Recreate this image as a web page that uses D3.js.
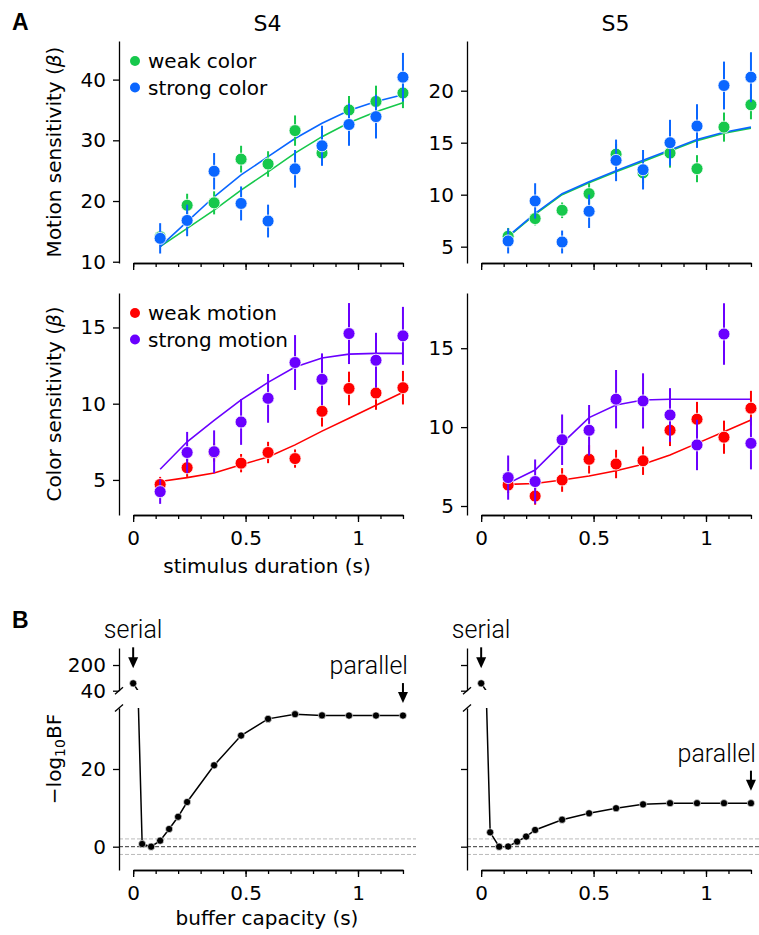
<!DOCTYPE html>
<html><head><meta charset="utf-8">
<script src="https://cdn.jsdelivr.net/npm/d3@7"></script>
<style>body{margin:0;background:#fff} svg{display:block}</style>
</head><body><svg id="c" width="759" height="935"></svg>
<script>
// ---------------- DATA ----------------
const durations = [0.12,0.24,0.36,0.48,0.6,0.72,0.84,0.96,1.08,1.2];
const xTickValues = [0,0.1,0.2,0.3,0.4,0.5,0.6,0.7,0.8,0.9,1.0,1.1,1.2];
const xMajorTicks = [0,0.5,1];

// S4 motion sensitivity
const s4WeakColor      = [14.1,19.3,19.7,26.9,26.1,31.6,27.9,35.0,36.4,37.8];
const s4WeakColorErr   = [1.0,1.9,1.9,2.2,2.1,2.5,1.7,2.3,2.6,2.5];
const s4StrongColor    = [13.85,16.8,24.9,19.6,16.7,25.3,29.1,32.6,33.9,40.4];
const s4StrongColorErr = [2.5,2.6,3.0,2.8,2.7,3.1,3.3,3.5,3.6,4.0];
const s4WeakColorFit   = [12.5,15.5,18.5,21.8,24.8,27.9,30.6,32.9,34.7,36.2];
const s4StrongColorFit = [12.5,16.6,20.7,24.3,27.3,30.3,32.8,34.9,36.4,37.5];

// S5 motion sensitivity
const s5WeakColor      = [6.0,7.7,8.5,10.1,13.9,12.1,14.0,12.5,16.5,18.65];
const s5WeakColorErr   = [0.8,0.65,0.75,1.0,1.0,1.0,1.4,1.3,1.4,1.4];
const s5StrongColor    = [5.55,9.4,5.45,8.4,13.3,12.4,15.0,16.6,20.5,21.3];
const s5StrongColorErr = [1.2,1.7,1.1,1.6,2.0,1.9,2.2,2.1,2.3,2.4];
const s5WeakColorFit   = [5.95,8.1,10.0,11.15,12.2,13.2,14.2,15.2,15.9,16.4];
const s5StrongColorFit = [6.0,8.2,10.1,11.25,12.3,13.3,14.3,15.3,16.0,16.5];

// S4 color sensitivity
const s4WeakMotion      = [4.7,5.8,6.8,6.1,6.8,6.4,9.5,11.0,10.7,11.05];
const s4WeakMotionErr   = [0.5,0.6,0.6,0.6,0.7,0.6,1.0,1.1,1.1,1.1];
const s4StrongMotion    = [4.23,6.8,6.85,8.8,10.35,12.7,11.6,14.6,12.85,14.45];
const s4StrongMotionErr = [0.8,1.35,1.4,1.5,1.6,1.8,1.7,2.0,1.8,1.9];
const s4WeakMotionFit   = [4.9,5.15,5.45,6.0,6.5,7.3,8.2,9.05,9.9,10.75];
const s4StrongMotionFit = [5.7,7.5,8.9,10.25,11.4,12.4,13.0,13.25,13.3,13.3];

// S5 color sensitivity
const s5WeakMotion      = [6.33,5.63,6.65,7.96,7.66,7.87,9.8,10.5,9.36,11.2];
const s5WeakMotionErr   = [0.5,0.55,0.75,0.9,0.9,0.9,1.0,1.1,1.05,1.1];
const s5StrongMotion    = [6.8,6.55,9.2,9.8,11.77,11.66,10.77,8.87,15.9,8.97];
const s5StrongMotionErr = [1.4,1.4,1.6,1.6,1.85,1.75,1.7,1.6,1.95,1.65];
const s5WeakMotionFit   = [6.37,6.43,6.65,6.9,7.24,7.64,8.23,8.97,9.71,10.45];
const s5StrongMotionFit = [6.44,7.28,8.97,10.6,11.4,11.72,11.77,11.77,11.77,11.77];

// Panel B: model comparison
const bufferCapacity = [0,0.04,0.08,0.12,0.16,0.2,0.24,0.36,0.48,0.6,0.72,0.84,0.96,1.08,1.2];
const s4LogBF = [86,0.7,0,1.55,4.55,7.7,11.5,20.95,28.6,32.9,34.1,33.8,33.75,33.75,33.75];
const s5LogBF = [86,3.7,0,0.05,1.3,2.6,4.3,6.95,8.6,9.9,10.9,11.2,11.2,11.2,11.2];

const colWeakColor = "#16c84c", colStrongColor = "#0a66ff";
const colWeakMotion = "#ff0000", colStrongMotion = "#6a00ff";

// ---------------- DRAWING ----------------
const svg = d3.select("#c");
const FONT = "DejaVu Sans, sans-serif";
const AXW = 297;
const XDOM = [-0.063, 1.258];
let clipId = 0;

function styleAxis(sel, fs) {
  sel.attr("font-family", null).attr("font-size", null);
  sel.select(".domain").attr("stroke", "#000").attr("stroke-width", 1.3);
  sel.selectAll(".tick line").attr("stroke", "#000").attr("stroke-width", 1.3);
  sel.selectAll(".tick text").attr("font-family", FONT).attr("font-size", fs || 20).attr("fill", "#000");
}

function drawXAxis(x, yPos, labels) {
  const xs = d3.scaleLinear().domain([0, 1.2]).range([x(0), x(1.2)]);
  const minor = d3.axisBottom(xs).tickValues(xTickValues).tickSize(4).tickSizeOuter(0).tickFormat("");
  svg.append("g").attr("transform", `translate(0,${yPos})`).call(minor).call(styleAxis);
  const major = d3.axisBottom(xs).tickValues(xMajorTicks).tickSize(7).tickSizeOuter(0).tickPadding(9)
    .tickFormat(labels ? (d => String(d)) : "");
  svg.append("g").attr("transform", `translate(0,${yPos})`).call(major).call(styleAxis);
}

function drawYAxis(y, left, ticks, labels) {
  const ax = d3.axisLeft(y).tickValues(ticks).tickSize(6).tickSizeOuter(0).tickPadding(7);
  if (!labels) ax.tickFormat("");
  svg.append("g").attr("transform", `translate(${left},0)`).call(ax).call(styleAxis);
}

function panelA(o) {
  const x = d3.scaleLinear().domain(XDOM).range([o.left, o.left + AXW]);
  const y = d3.scaleLinear().domain(o.ydom).range([o.bottom, o.top]);
  drawYAxis(y, o.left, o.yticks, true);
  drawXAxis(x, o.bottom, o.xlabels);
  const line = d3.line().x((d, i) => x(durations[i])).y(d => y(d));
  o.series.forEach(s => {
    svg.append("path").datum(s.fit).attr("d", line)
      .attr("fill", "none").attr("stroke", s.color).attr("stroke-width", 1.6);
  });
  o.series.forEach(s => {
    const g = svg.append("g");
    g.selectAll("line.err").data(s.vals).join("line")
      .attr("x1", (d, i) => x(durations[i])).attr("x2", (d, i) => x(durations[i]))
      .attr("y1", (d, i) => y(d - s.err[i])).attr("y2", (d, i) => y(d + s.err[i]))
      .attr("stroke", s.color).attr("stroke-width", 2);
    g.selectAll("circle").data(s.vals).join("circle")
      .attr("cx", (d, i) => x(durations[i])).attr("cy", d => y(d)).attr("r", 6)
      .attr("fill", s.color).attr("stroke", "#fff").attr("stroke-width", 0.8);
  });
  if (o.legend) {
    o.series.forEach((s, i) => {
      const ly = o.top + 20 + i * 26.5;
      svg.append("circle").attr("cx", o.left + 16).attr("cy", ly).attr("r", 5).attr("fill", s.color);
      svg.append("text").attr("x", o.left + 29).attr("y", ly + 7).text(s.name)
        .attr("font-family", FONT).attr("font-size", 20).attr("fill", "#000");
    });
  }
  return x;
}

function arrow(xp, yTop, yTip) {
  svg.append("line").attr("x1", xp).attr("x2", xp).attr("y1", yTop).attr("y2", yTip - 6)
    .attr("stroke", "#000").attr("stroke-width", 2);
  svg.append("path").attr("d", `M${xp - 5},${yTip - 11}L${xp + 5},${yTip - 11}L${xp},${yTip}Z`).attr("fill", "#000");
}

function panelB(o) {
  const x = d3.scaleLinear().domain(XDOM).range([o.left, o.left + AXW]);
  const yLo = d3.scaleLinear().domain([-6, 35.7]).range([870, 708]);
  const yHi = d3.scaleLinear().domain([40, 306]).range([690.7, 648]);
  [[2, "#bbb"], [-2, "#bbb"], [0, "#333"]].forEach(([v, c]) => {
    svg.append("line").attr("x1", o.left).attr("x2", o.left + AXW).attr("y1", yLo(v)).attr("y2", yLo(v))
      .attr("stroke", c).attr("stroke-width", 1).attr("stroke-dasharray", "4,2");
  });
  drawYAxis(yLo, o.left, [0, 20], o.ylabels);
  drawYAxis(yHi, o.left, [40, 200], o.ylabels);
  drawXAxis(x, 870, true);
  [690.7, 708].forEach(yy => {
    svg.append("line").attr("x1", o.left - 4).attr("x2", o.left + 4).attr("y1", yy + 3.5).attr("y2", yy - 3.5)
      .attr("stroke", "#000").attr("stroke-width", 1.3);
  });
  [[yLo, 708, 880, [-6, 35.7]], [yHi, 640, 690, [40, 306]]].forEach(([y, y0, y1, dom]) => {
    const id = "clip" + (clipId++);
    svg.append("clipPath").attr("id", id).append("rect")
      .attr("x", o.left).attr("y", y0).attr("width", AXW + 10).attr("height", y1 - y0);
    const g = svg.append("g").attr("clip-path", `url(#${id})`);
    const line = d3.line().x((d, i) => x(bufferCapacity[i])).y(d => y(d));
    g.append("path").datum(o.vals).attr("d", line).attr("fill", "none").attr("stroke", "#000").attr("stroke-width", 1.5);
    const pts = o.vals.map((v, i) => ({v, c: bufferCapacity[i]})).filter(p => p.v >= dom[0] && p.v <= dom[1]);
    g.selectAll("circle").data(pts).join("circle")
      .attr("cx", p => x(p.c)).attr("cy", p => y(p.v)).attr("r", 3.6)
      .attr("fill", "#000").attr("stroke", "#fff").attr("stroke-width", 0.6);
  });
  const serialTip = yHi(o.vals[0]) - 15;
  arrow(x(0), serialTip - 21, serialTip);
  svg.append("text").attr("x", x(0)).attr("y", serialTip - 30).attr("text-anchor", "middle")
    .attr("font-family", "Roboto, Liberation Sans, sans-serif").attr("font-weight", 300)
    .attr("font-size", 25).attr("fill", "#000").text("serial");
  const last = o.vals[o.vals.length - 1];
  const parTip = yLo(last) - 12.5;
  arrow(x(1.2), parTip - 20, parTip);
  svg.append("text").attr("x", x(1.2) + 5).attr("y", parTip - 29).attr("text-anchor", "end")
    .attr("font-family", "Roboto, Liberation Sans, sans-serif").attr("font-weight", 300)
    .attr("font-size", 25).attr("fill", "#000").text("parallel");
}

const L = 119, R = 467;

panelA({left: L, top: 41, bottom: 263, ydom: [9.79, 46.36], yticks: [10,20,30,40], xlabels: false, legend: true,
  series: [
    {name: "weak color", color: colWeakColor, vals: s4WeakColor, err: s4WeakColorErr, fit: s4WeakColorFit},
    {name: "strong color", color: colStrongColor, vals: s4StrongColor, err: s4StrongColorErr, fit: s4StrongColorFit}]});
panelA({left: R, top: 41, bottom: 263, ydom: [3.43, 24.78], yticks: [5,10,15,20], xlabels: false, legend: false,
  series: [
    {name: "weak color", color: colWeakColor, vals: s5WeakColor, err: s5WeakColorErr, fit: s5WeakColorFit},
    {name: "strong color", color: colStrongColor, vals: s5StrongColor, err: s5StrongColorErr, fit: s5StrongColorFit}]});
panelA({left: L, top: 293, bottom: 515, ydom: [2.70, 17.26], yticks: [5,10,15], xlabels: true, legend: true,
  series: [
    {name: "weak motion", color: colWeakMotion, vals: s4WeakMotion, err: s4WeakMotionErr, fit: s4WeakMotionFit},
    {name: "strong motion", color: colStrongMotion, vals: s4StrongMotion, err: s4StrongMotionErr, fit: s4StrongMotionFit}]});
panelA({left: R, top: 293, bottom: 515, ydom: [4.43, 18.5], yticks: [5,10,15], xlabels: true, legend: false,
  series: [
    {name: "weak motion", color: colWeakMotion, vals: s5WeakMotion, err: s5WeakMotionErr, fit: s5WeakMotionFit},
    {name: "strong motion", color: colStrongMotion, vals: s5StrongMotion, err: s5StrongMotionErr, fit: s5StrongMotionFit}]});

panelB({left: L, vals: s4LogBF, ylabels: true});
panelB({left: R, vals: s5LogBF, ylabels: false});

// ---------------- TEXT ----------------
function txt(x, y, s, fs, anchor, extra) {
  const t = svg.append("text").attr("x", x).attr("y", y).attr("font-family", FONT).attr("font-size", fs)
    .attr("text-anchor", anchor || "middle").attr("fill", "#000").text(s);
  if (extra) extra(t);
  return t;
}
txt(12, 29.5, "A", 23, "start", t => t.attr("font-family", "Liberation Sans, Arial, sans-serif").attr("font-weight", "bold"));
txt(12, 628, "B", 23, "start", t => t.attr("font-family", "Liberation Sans, Arial, sans-serif").attr("font-weight", "bold"));
txt(L + AXW / 2, 31, "S4", 22);
txt(R + AXW / 2, 31, "S5", 22);
txt(L + AXW / 2 - 0.5, 573, "stimulus duration (s)", 20);
txt(L + AXW / 2 - 0.5, 925, "buffer capacity (s)", 20);

function ylab(cy, parts) {
  const t = svg.append("text").attr("transform", `translate(61,${cy}) rotate(-90)`)
    .attr("text-anchor", "middle").attr("font-family", FONT).attr("font-size", 20).attr("fill", "#000");
  parts.forEach(p => {
    const ts = t.append("tspan").text(p.t);
    if (p.i) ts.attr("font-style", "italic");
    if (p.sub) ts.attr("font-size", 14).attr("dy", 4);
    if (p.up) ts.attr("dy", -4);
  });
}
ylab(152, [{t: "Motion sensitivity ("}, {t: "β", i: true}, {t: ")"}]);
ylab(404, [{t: "Color sensitivity ("}, {t: "β", i: true}, {t: ")"}]);
ylab(759, [{t: "\u2212log"}, {t: "10", sub: true}, {t: "BF", up: true}]);
</script></body></html>
